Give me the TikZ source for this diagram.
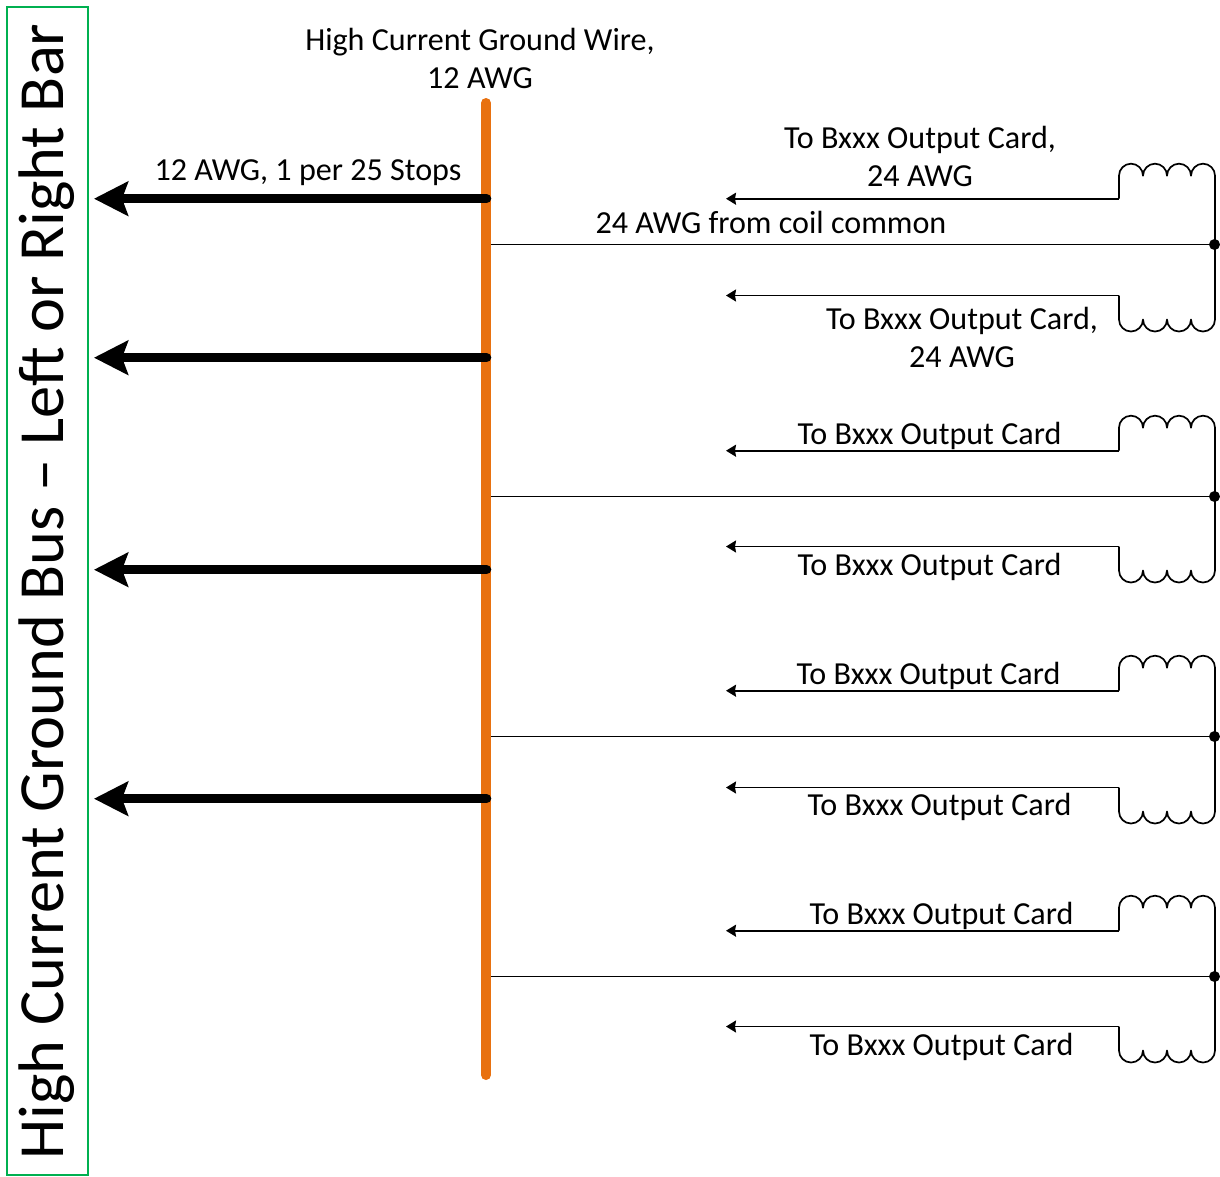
\documentclass[tikz,border=0pt]{standalone}
\usepackage{fontspec}
\setmainfont{Carlito}
\usetikzlibrary{arrows.meta}
\definecolor{busorange}{RGB}{232,113,16}
\definecolor{busgreen}{RGB}{0,176,80}
\tikzset{
  lbl/.style={inner sep=0pt,font=\fontsize{32.1}{38}\selectfont,align=center,text=black},
  biglbl/.style={inner sep=0pt,font=\fontsize{64.4}{70}\selectfont,text=black},
  wire/.style={line width=1.7pt,draw=black},
  outwire/.style={wire,-{Stealth[length=10pt,width=12pt,inset=1pt]}},
  gndarrow/.style={line width=9.5pt,draw=black,-{Stealth[length=34pt,width=34pt,inset=6pt]}},
  gndcap/.style={line width=9.5pt,draw=black,line cap=round},
  bus/.style={line width=10pt,draw=busorange,line cap=round},
  busbox/.style={draw=busgreen,line width=1.7pt,minimum width=81pt,minimum height=1168pt,inner sep=0pt},
  junction/.style={circle,fill=black,inner sep=0pt,minimum size=11pt},
}
\begin{document}
\begin{tikzpicture}[x=1pt,y=-1pt]
\useasboundingbox (0,0) rectangle (1220,1176);
\node[busbox] (box) at (47.5,591) {};
\node[biglbl,rotate=90] (boxlabel) at (47,591.5) {High Current Ground Bus -- Left or Right Bar};
\coordinate (bustop) at (486,103);
\coordinate (busbot) at (486,1075);
\draw[bus] (bustop) -- (busbot);
\foreach \i/\y in {1/198.7,2/357.7,3/569.7,4/798.7}{
  \coordinate (gs\i) at (486.5,\y);
  \coordinate (ge\i) at (94,\y);
  \draw[gndcap] (gs\i) -- ++(-6,0);
  \draw[gndarrow] (gs\i) -- (ge\i);
}
\foreach \i/\t/\c/\b in {1/198.7/244.5/295.5,2/450.7/496.5/546.5,3/690.7/736.5/787.5,4/930.7/976.5/1026.5}{
  \coordinate (ct\i) at (1119,\t);
  \coordinate (at\i) at (726,\t);
  \coordinate (cb\i) at (1119,\b);
  \coordinate (ab\i) at (726,\b);
  \coordinate (cs\i) at (491,\c);
  \node[junction] (j\i) at (1214.5,\c) {};
  \draw[outwire] (ct\i) -- (at\i);
  \draw[outwire] (cb\i) -- (ab\i);
  \draw[wire] (cs\i) -- (j\i);
  \draw[wire,line join=round] (ct\i) -- ++(0,-23)
     arc[start angle=180,end angle=360,x radius=12,y radius=12]
     arc[start angle=180,end angle=360,x radius=12,y radius=12]
     arc[start angle=180,end angle=360,x radius=12,y radius=12]
     arc[start angle=180,end angle=360,x radius=12,y radius=12]
     -- (1215,\c);
  \draw[wire,line join=round] (cb\i) -- ++(0,24)
     arc[start angle=180,end angle=0,x radius=12,y radius=12]
     arc[start angle=180,end angle=0,x radius=12,y radius=12]
     arc[start angle=180,end angle=0,x radius=12,y radius=12]
     arc[start angle=180,end angle=0,x radius=12,y radius=12]
     -- (1215,\c);
}
\node[lbl] (wirelabel) at (480,58.5) {High Current Ground Wire,\\12 AWG};
\node[lbl] (perstops) at (308,173) {12 AWG, 1 per 25 Stops};
\node[lbl] (t1) at (920,156.5) {To Bxxx Output Card,\\24 AWG};
\node[lbl] (common) at (771,222.5) {24 AWG from coil common};
\node[lbl] (b1) at (962,337.5) {To Bxxx Output Card,\\24 AWG};
\node[lbl] (t2) at (929.5,436) {To Bxxx Output Card};
\node[lbl] (b2) at (929.5,567) {To Bxxx Output Card};
\node[lbl] (t3) at (928.5,676) {To Bxxx Output Card};
\node[lbl] (b3) at (939.5,807) {To Bxxx Output Card};
\node[lbl] (t4) at (941.5,916) {To Bxxx Output Card};
\node[lbl] (b4) at (941.5,1047) {To Bxxx Output Card};
\end{tikzpicture}
\end{document}
